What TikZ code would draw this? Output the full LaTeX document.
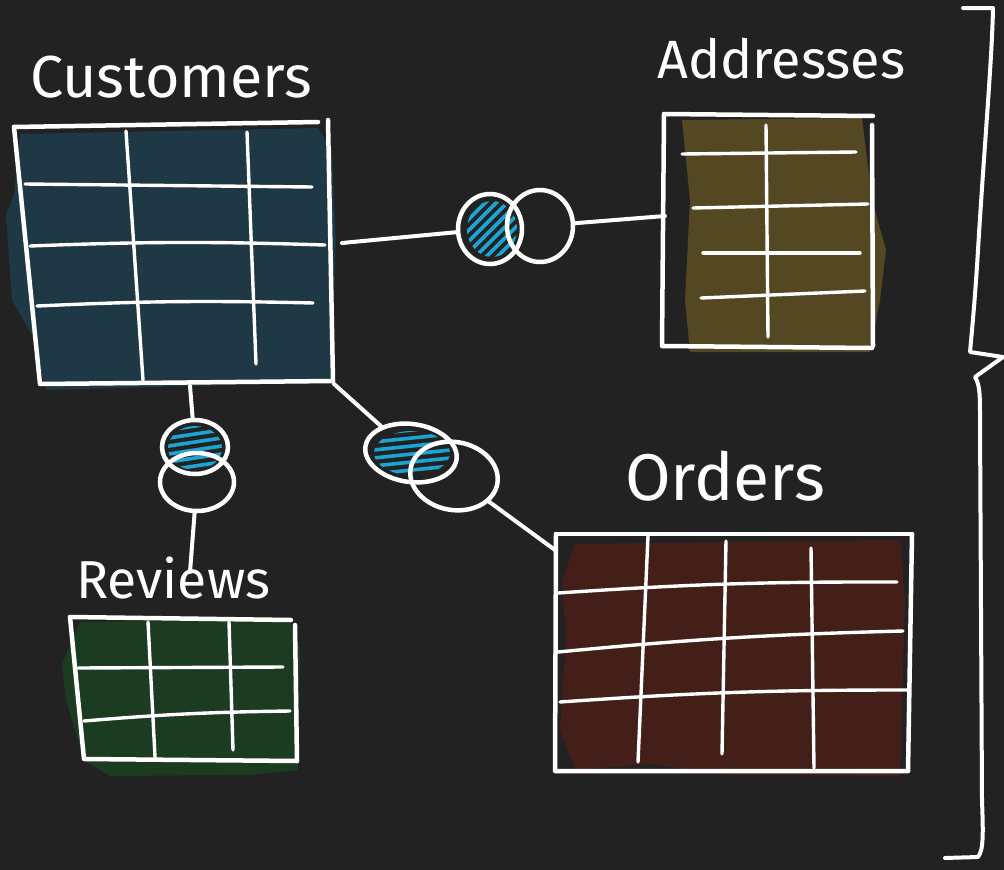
\documentclass[tikz,border=0pt]{standalone}
\usepackage{fontspec}
\setmainfont{Fira Sans}
\usetikzlibrary{shapes.geometric}
\definecolor{board}{RGB}{34,34,34}
\definecolor{custfill}{RGB}{30,57,69}
\definecolor{addrfill}{RGB}{84,72,34}
\definecolor{ordfill}{RGB}{68,31,25}
\definecolor{revfill}{RGB}{28,60,34}
\definecolor{hatch}{RGB}{28,165,212}
\tikzset{
  frame/.style={draw=white, line width=4.5pt, line cap=round, line join=round},
  grid/.style={draw=white, line width=3.4pt, line cap=round},
  link/.style={draw=white, line width=4pt, line cap=round},
  ring/.style={ellipse, draw=white, line width=4.5pt, inner sep=0pt},
  scribble/.style={draw=hatch, line width=3.6pt, line cap=round},
  title/.style={text=white, anchor=base west, inner sep=0pt},
  brace/.style={draw=white, line width=4pt, line cap=round, line join=round}
}
\begin{document}
\begin{tikzpicture}[x=1pt,y=-1pt]
\fill[board] (0,0) rectangle (1004,870);
\useasboundingbox (0,0) rectangle (1004,870);

% ---------- titles ----------
\node[title] (tCust) at (30,97)  {\resizebox{282pt}{!}{Customers}};
\node[title] (tAddr) at (657,78) {\resizebox{248pt}{!}{Addresses}};
\node[title] (tOrd)  at (625,500){\resizebox{200pt}{!}{Orders}};
\node[title] (tRev)  at (76,598) {\resizebox{194pt}{!}{Reviews}};

% ---------- Customers table ----------
\fill[custfill] (20,134) -- (318,128) -- (332,150) -- (336,240) -- (330,382)
  -- (46,390) -- (32,335) -- (12,300) -- (6,215) -- (14,195) -- cycle;
\draw[frame] (14,127) -- (318,122);
\draw[frame] (14,127) -- (40,384) -- (333,381);
\draw[frame] (328,120) -- (333,381);
\draw[grid] (25,184) -- (312,187);
\draw[grid] (30,246) to[bend left=2] (325,245);
\draw[grid] (37,306) to[bend left=2] (313,303);
\draw[grid] (126,131) -- (143,380);
\draw[grid] (247,132) -- (256,364);

% ---------- Addresses table ----------
\fill[addrfill] (682,120) -- (862,118) -- (872,200) -- (886,250) -- (880,300)
  -- (870,352) -- (690,352) -- (685,300) -- (690,200) -- cycle;
\draw[frame] (664,114) -- (873,116);
\draw[frame] (664,114) -- (662,346) -- (872,348);
\draw[frame] (872,125) -- (873,346);
\draw[grid] (682,154) -- (856,152);
\draw[grid] (693,208) -- (868,204);
\draw[grid] (703,253) -- (860,253);
\draw[grid] (701,298) -- (865,291);
\draw[grid] (766,125) -- (768,337);

% ---------- Orders table ----------
\fill[ordfill] (575,544) -- (900,540) -- (905,600) -- (902,700) -- (900,776)
  -- (730,775) -- (650,764) -- (575,770) -- (560,730) -- (566,640) -- (562,580) -- cycle;
\draw[frame] (556,534) -- (912,534);
\draw[frame] (556,534) -- (555,771) -- (908,771);
\draw[frame] (912,534) -- (908,771);
\draw[grid] (558,593) to[bend left=2] (897,582);
\draw[grid] (558,652) to[bend left=2] (903,631);
\draw[grid] (560,702) to[bend left=2] (907,690);
\draw[grid] (648,536) -- (638,762);
\draw[grid] (726,541) -- (722,754);
\draw[grid] (811,548) -- (814,768);

% ---------- Reviews table ----------
\fill[revfill] (80,622) -- (290,620) -- (300,650) -- (298,770) -- (250,775)
  -- (110,776) -- (84,760) -- (66,700) -- (62,665) -- (72,640) -- cycle;
\draw[frame] (70,617) -- (291,620);
\draw[frame] (70,617) -- (84,759) -- (297,761);
\draw[frame] (295,625) -- (297,761);
\draw[grid] (78,668) -- (283,667);
\draw[grid] (84,721) to[bend left=2] (290,711);
\draw[grid] (148,622) -- (155,757);
\draw[grid] (229,622) -- (233,750);

% ---------- table anchor points for the links ----------
\coordinate (custR) at (342,243);
\coordinate (custB) at (190,386);
\coordinate (custC) at (334,384);
\coordinate (addrL) at (665,216);
\coordinate (revT)  at (190,572);
\coordinate (ordTL) at (555,550);

% ---------- link Customers -- Addresses ----------
\begin{scope}
  \clip (492,229) ellipse [x radius=25, y radius=28];
  \foreach \k in {-64,-53,...,64}
    \draw[scribble] (490+\k-40,229+40) -- (490+\k+40,229-40);
\end{scope}
\node[ring, minimum width=64pt, minimum height=70pt] (h1) at (490,229) {};
\node[ring, minimum width=66pt, minimum height=72pt] (a1) at (540,226) {};
\draw[link] (custR) -- (h1);
\draw[link] (a1) -- (addrL);

% ---------- link Customers -- Reviews ----------
\begin{scope}
  \clip (195,448) ellipse [x radius=27, y radius=22];
  \foreach \y in {426,434,...,474}
    \draw[scribble] (162,\y+5) -- (228,\y-5);
\end{scope}
\node[ring, minimum width=66pt, minimum height=54pt] (h2) at (195,447) {};
\node[ring, minimum width=74pt, minimum height=58pt] (a2) at (197,482) {};
\draw[link] (custB) -- (h2);
\draw[link] (a2) -- (revT);

% ---------- link Customers -- Orders ----------
\begin{scope}
  \clip (412,453) ellipse [x radius=38, y radius=22];
  \foreach \y in {430,438,...,482}
    \draw[scribble] (364,\y+5) -- (460,\y-5);
\end{scope}
\node[ring, minimum width=92pt, minimum height=58pt, rotate=-8] (h3) at (411,453) {};
\node[ring, minimum width=88pt, minimum height=68pt, rotate=-10] (a3) at (454,476) {};
\draw[link] (custC) -- (h3);
\draw[link] (a3) -- (ordTL);

% ---------- right-hand brace ----------
\coordinate (bTop) at (963,8);
\coordinate (bTip) at (1003,357);
\coordinate (bBot) at (945,858);
\draw[brace] (bTop) -- (993,8) .. controls (992,60) and (984,150) .. (978,250)
  .. controls (975,300) and (972,330) .. (970,352) -- (bTip);
\draw[brace] (bTip) -- (975,377) .. controls (980,385) and (980,395) .. (980,420)
  -- (982,800) .. controls (983,830) and (984,850) .. (978,857) -- (bBot);
\end{tikzpicture}
\end{document}
